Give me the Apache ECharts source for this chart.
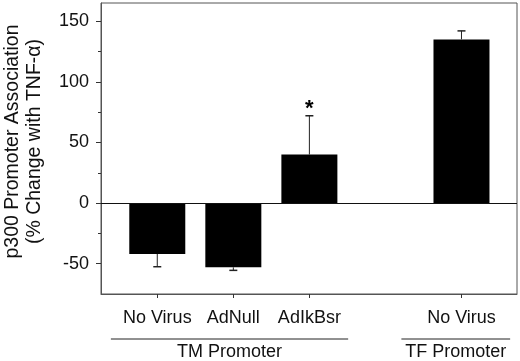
<!DOCTYPE html>
<html>
<head>
<meta charset="utf-8">
<script src="https://cdn.jsdelivr.net/npm/echarts@6/dist/echarts.min.js"></script>
<style>
html, body { margin: 0; padding: 0; background: #fff; }
#chart { width: 520px; height: 361px; }
</style>
</head>
<body>
<div id="chart"></div>
<script>
// data
const categories = ["No Virus", "AdNull", "AdIkBsr", "No Virus"];
const positions = [0, 1, 2, 4];
const values = [-42, -53, 40, 135];
const errors = [10.5, 2.5, 32, 7];
const marks = ["", "", "*", ""];
const groupNames = ["TM Promoter", "TF Promoter"];
const groupFrom = [-0.61, 3.21];
const groupTo = [2.51, 4.64];
const yMajor = [-50, 0, 50, 100, 150];
const yMinor = [-25, 25, 75, 125];

const FONT = '"Liberation Sans", Arial, sans-serif';
const frameColor = "#555";

const chart = echarts.init(document.getElementById("chart"));

const option = {
    animation: false,
    textStyle: { fontFamily: FONT },
    grid: {
        left: 101,
        right: 3,
        top: 3,
        bottom: 67,
        outerBoundsMode: "none",
        containLabel: false,
        show: true,
        borderColor: frameColor,
        borderWidth: 1,
        backgroundColor: "transparent",
    },
    xAxis: {
        type: "value",
        min: -0.74,
        max: 4.73,
        splitLine: { show: false },
        axisLine: { show: true, onZero: false, lineStyle: { color: frameColor } },
        axisTick: {
            show: true,
            customValues: positions,
            length: 4,
            lineStyle: { color: "#333" },
        },
        axisLabel: {
            customValues: positions,
            formatter: (v) => categories[positions.indexOf(v)] || "",
            fontSize: 18,
            color: "#111",
            margin: 15,
        },
    },
    yAxis: [
        {
            type: "value",
            min: -75,
            max: 165,
            splitLine: { show: false },
            axisLine: { show: true, onZero: false, lineStyle: { color: frameColor } },
            axisTick: {
                show: true,
                customValues: yMajor,
                length: 5,
                lineStyle: { color: "#333" },
            },
            axisLabel: {
                customValues: yMajor,
                fontSize: 18,
                color: "#111",
                margin: 12,
            },
            name: "p300 Promoter Association\n(% Change with TNF-α)",
            nameLocation: "middle",
            nameGap: 55,
            nameTextStyle: {
                fontSize: 19.5,
                color: "#111",
                lineHeight: 22,
                padding: [0, 0, 0, 14],
            },
        },
        {
            type: "value",
            min: -75,
            max: 165,
            position: "left",
            splitLine: { show: false },
            axisLine: { show: false, onZero: false },
            axisTick: {
                show: true,
                customValues: yMinor,
                length: 3,
                lineStyle: { color: "#333" },
            },
            axisLabel: { show: false },
        },
    ],
    series: [
        {
            type: "bar",
            barWidth: 56,
            itemStyle: { color: "#000" },
            data: positions.map((p, i) => [p, values[i]]),
            markLine: {
                silent: true,
                symbol: "none",
                label: { show: false },
                lineStyle: { color: "#111", type: "solid", width: 1 },
                data: [{ yAxis: 0 }],
            },
            z: 2,
        },
        {
            // error bars + significance mark
            type: "custom",
            clip: false,
            z: 3,
            data: positions.map((p, i) => [p, values[i], errors[i], i]),
            encode: { x: 0, y: 1 },
            renderItem: (params, api) => {
                const x = api.value(0);
                const v = api.value(1);
                const e = api.value(2);
                const i = api.value(3);
                const end = v + (v < 0 ? -e : e);
                const p0 = api.coord([x, v]);
                const p1 = api.coord([x, end]);
                const children = [
                    {
                        type: "line",
                        shape: { x1: p0[0], y1: p0[1], x2: p1[0], y2: p1[1] },
                        style: { stroke: "#222", lineWidth: 1 },
                    },
                    {
                        type: "line",
                        shape: { x1: p1[0] - 4, y1: p1[1], x2: p1[0] + 4, y2: p1[1] },
                        style: { stroke: "#222", lineWidth: 1.5 },
                    },
                ];
                if (marks[i]) {
                    children.push({
                        type: "text",
                        style: {
                            text: marks[i],
                            x: p1[0],
                            y: p1[1] - 7,
                            align: "center",
                            verticalAlign: "middle",
                            fontSize: 22,
                            fontWeight: "bold",
                            fontFamily: FONT,
                            fill: "#000",
                        },
                    });
                }
                return { type: "group", children: children };
            },
        },
        {
            // group brackets under the axis
            type: "custom",
            clip: false,
            silent: true,
            data: groupFrom.map((f, i) => [f, groupTo[i], -75, i]),
            encode: { x: [0, 1], y: 2 },
            renderItem: (params, api) => {
                const a = api.coord([api.value(0), api.value(2)]);
                const b = api.coord([api.value(1), api.value(2)]);
                const y = a[1] + 45;
                return {
                    type: "group",
                    children: [
                        {
                            type: "line",
                            shape: { x1: a[0], y1: y, x2: b[0], y2: y },
                            style: { stroke: "#222", lineWidth: 1 },
                        },
                        {
                            type: "text",
                            style: {
                                text: groupNames[api.value(3)],
                                x: (a[0] + b[0]) / 2,
                                y: y + 4,
                                align: "center",
                                verticalAlign: "top",
                                fontSize: 18,
                                fontFamily: FONT,
                                fill: "#111",
                            },
                        },
                    ],
                };
            },
        },
    ],
};

chart.setOption(option);
</script>
</body>
</html>
